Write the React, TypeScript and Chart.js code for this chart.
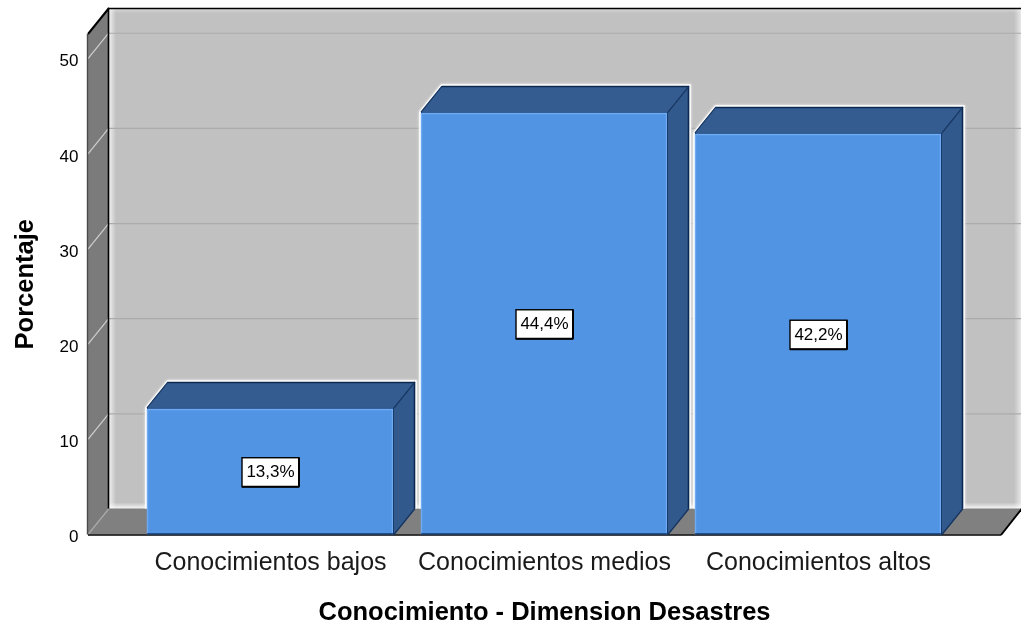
import React, { useEffect, useRef } from "react";
import { Chart, registerables } from "chart.js";

Chart.register(...registerables);

const categories = ["Conocimientos bajos", "Conocimientos medios", "Conocimientos altos"];
const percentages = [13.3, 44.4, 42.2];
const valueLabels = ["13,3%", "44,4%", "42,2%"];
const yTicks = [0, 10, 20, 30, 40, 50];
const xTitle = "Conocimiento - Dimension Desastres";
const yTitle = "Porcentaje";

const DEPTH_X = 21;
const DEPTH_Y = 26;
const SIDE_PAD = 45.5;

const poly = (ctx: CanvasRenderingContext2D, pts: number[][], fill?: string, stroke?: string, lw = 1) => {
  ctx.beginPath();
  pts.forEach((p, i) => (i ? ctx.lineTo(p[0], p[1]) : ctx.moveTo(p[0], p[1])));
  ctx.closePath();
  if (fill) {
    ctx.fillStyle = fill;
    ctx.fill();
  }
  if (stroke) {
    ctx.strokeStyle = stroke;
    ctx.lineWidth = lw;
    ctx.stroke();
  }
};

const line = (ctx: CanvasRenderingContext2D, x1: number, y1: number, x2: number, y2: number, color: string, lw = 1) => {
  ctx.beginPath();
  ctx.moveTo(x1, y1);
  ctx.lineTo(x2, y2);
  ctx.strokeStyle = color;
  ctx.lineWidth = lw;
  ctx.stroke();
};

const walls = {
  id: "walls",
  beforeDatasetsDraw(chart: any) {
    const { ctx, chartArea, scales } = chart;
    const y = scales.y;
    const L = chartArea.left - SIDE_PAD;
    const R = chartArea.right + SIDE_PAD;
    const T = chartArea.top;
    const B = chartArea.bottom;
    const bL = L + DEPTH_X;
    const bR = R + DEPTH_X;
    const bT = T - DEPTH_Y;
    const bB = B - DEPTH_Y;
    ctx.save();
    // back wall
    ctx.fillStyle = "#c1c1c1";
    ctx.fillRect(bL, bT, bR - bL, bB - bT);
    // soft inner glow of the wall
    let g = ctx.createLinearGradient(bL, 0, bL + 7, 0);
    g.addColorStop(0, "rgba(255,255,255,0.75)");
    g.addColorStop(1, "rgba(255,255,255,0)");
    ctx.fillStyle = g;
    ctx.fillRect(bL, bT, 7, bB - bT);
    g = ctx.createLinearGradient(0, bB - 6, 0, bB);
    g.addColorStop(0, "rgba(255,255,255,0)");
    g.addColorStop(1, "rgba(255,255,255,0.85)");
    ctx.fillStyle = g;
    ctx.fillRect(bL, bB - 6, bR - bL, 6);
    g = ctx.createLinearGradient(0, bT, 0, bT + 5);
    g.addColorStop(0, "rgba(255,255,255,0.45)");
    g.addColorStop(1, "rgba(255,255,255,0)");
    ctx.fillStyle = g;
    ctx.fillRect(bL, bT, bR - bL, 5);
    g = ctx.createLinearGradient(bR - 8, 0, bR - 1, 0);
    g.addColorStop(0, "rgba(255,255,255,0)");
    g.addColorStop(1, "rgba(255,255,255,0.6)");
    ctx.fillStyle = g;
    ctx.fillRect(bR - 8, bT, 8, bB - bT);
    // left wall and floor
    poly(ctx, [[L, T], [bL, bT], [bL, bB], [L, B]], "#7b7b7b");
    poly(ctx, [[L, B], [bL, bB], [bR, bB], [R, B]], "#808080");
    // grid lines
    yTicks.forEach((v) => {
      const p = y.getPixelForValue(v);
      if (v > 0) line(ctx, bL, p - DEPTH_Y + 0.5, bR, p - DEPTH_Y + 0.5, "#ababab", 1.2);
      line(ctx, L, p, bL, p - DEPTH_Y, v > 0 ? "#cfcfcf" : "#a9a9a9", 1.2);
    });
    // outlines
    line(ctx, bL - 0.5, bT, bL - 0.5, bB, "#000", 1.6);
    line(ctx, bL - 1, bT + 0.5, bR, bT + 0.5, "#000", 1.4);
    line(ctx, L - 0.5, T, L - 0.5, B, "#4a4a4a", 1.4);
    line(ctx, L, T, bL, bT, "#000", 2);
    line(ctx, L, B + 0.5, R, B + 0.5, "#000", 1.4);
    line(ctx, R, B + 0.5, bR, bB, "#000", 2);
    // 3D bar sides with halo
    const bars = chart.getDatasetMeta(0).data;
    bars.forEach((bar: any) => {
      const l = bar.x - bar.width / 2;
      const r = bar.x + bar.width / 2;
      const t = bar.y;
      const b = bar.base;
      const shape = [[l, b], [l, t], [l + DEPTH_X, t - DEPTH_Y], [r + DEPTH_X, t - DEPTH_Y], [r + DEPTH_X, b - DEPTH_Y], [r, b]];
      ctx.save();
      ctx.beginPath();
      ctx.rect(0, 0, chart.width, bB);
      ctx.clip();
      ctx.shadowColor = "rgba(255,255,255,0.9)";
      ctx.shadowBlur = 3;
      poly(ctx, shape, undefined, "#ffffff", 3.5);
      ctx.restore();
      poly(ctx, [[l, t], [l + DEPTH_X, t - DEPTH_Y], [r + DEPTH_X, t - DEPTH_Y], [r, t]], "#345c90");
      poly(ctx, [[r, t], [r + DEPTH_X, t - DEPTH_Y], [r + DEPTH_X, b - DEPTH_Y], [r, b]], "#32598b");
      line(ctx, l + DEPTH_X, t - DEPTH_Y + 0.5, r + DEPTH_X, t - DEPTH_Y + 0.5, "#0b2850", 1.6);
      line(ctx, r + DEPTH_X - 0.5, t - DEPTH_Y, r + DEPTH_X - 0.5, b - DEPTH_Y, "#0b2850", 1.6);
      line(ctx, l, t, l + DEPTH_X, t - DEPTH_Y, "#14335f", 1.2);
      line(ctx, r, t, r + DEPTH_X, t - DEPTH_Y, "#14335f", 1.2);
      line(ctx, r, b, r + DEPTH_X, b - DEPTH_Y, "#14335f", 1.2);
    });
    ctx.restore();
  },
  afterDatasetsDraw(chart: any) {
    const { ctx } = chart;
    const bars = chart.getDatasetMeta(0).data;
    ctx.save();
    bars.forEach((bar: any, i: number) => {
      const l = bar.x - bar.width / 2;
      const r = bar.x + bar.width / 2;
      const t = bar.y;
      const b = bar.base;
      // bevel of the front face
      line(ctx, l, t + 0.5, r, t + 0.5, "#1e4477", 1);
      line(ctx, l + 1, t + 1.5, r - 1, t + 1.5, "#6fabf3", 1.4);
      line(ctx, l + 0.5, t + 1, l + 0.5, b, "#6fabf3", 1.4);
      line(ctx, r - 1.5, t + 1, r - 1.5, b, "#6fabf3", 1.4);
      line(ctx, r - 0.5, t, r - 0.5, b, "#173a6b", 1);
      line(ctx, l, b - 0.5, r, b - 0.5, "#14386a", 1.6);
      // value label
      const cx = bar.x;
      const cy = (t + b) / 2 + 1;
      const w = 57;
      const h = 29;
      ctx.fillStyle = "#ffffff";
      ctx.fillRect(cx - w / 2, cy - h / 2, w, h);
      ctx.strokeStyle = "#000";
      ctx.lineWidth = 1.4;
      ctx.strokeRect(cx - w / 2, cy - h / 2, w, h);
      line(ctx, cx - w / 2, cy + h / 2, cx + w / 2, cy + h / 2, "#000", 2);
      line(ctx, cx + w / 2, cy - h / 2, cx + w / 2, cy + h / 2, "#000", 2);
      ctx.fillStyle = "#000";
      ctx.font = '17px "Liberation Sans"';
      ctx.textAlign = "center";
      ctx.textBaseline = "middle";
      ctx.fillText(valueLabels[i], cx, cy + 0.5);
    });
    ctx.restore();
  },
};

export default function App() {
  const ref = useRef<HTMLCanvasElement>(null);
  useEffect(() => {
    document.body.style.margin = "0";
    const chart = new Chart(ref.current!, {
      type: "bar",
      data: {
        labels: categories,
        datasets: [
          {
            label: yTitle,
            data: percentages,
            backgroundColor: "#5294e4",
            borderWidth: 0,
            barPercentage: 0.9015,
            categoryPercentage: 1,
          },
        ],
      },
      plugins: [walls],
      options: {
        animation: false,
        responsive: false,
        layout: { padding: { top: 34, right: 65.5, left: 0, bottom: 0 } },
        plugins: { legend: { display: false }, tooltip: { enabled: false } },
        scales: {
          x: {
            afterFit(axis: any) {
              axis.height = 88.5;
              axis.paddingLeft = 0;
              axis.paddingRight = 0;
            },
            grid: { display: false },
            border: { display: false },
            ticks: {
              color: "#1a1a1a",
              maxRotation: 0,
              padding: 6,
              font: { family: '"Liberation Sans"', size: 25 },
            },
            title: {
              display: true,
              text: xTitle,
              color: "#000",
              padding: { top: 0, bottom: -5 },
              font: { family: '"Liberation Sans"', size: 25.5, weight: "bold" },
            },
          },
          y: {
            min: 0,
            max: 52.6,
            afterBuildTicks(axis: any) {
              axis.ticks = yTicks.map((value) => ({ value }));
            },
            afterFit(axis: any) {
              axis.width = 133.5;
              axis.paddingTop = 0;
              axis.paddingBottom = 0;
            },
            grid: { display: false, drawTicks: false },
            border: { display: false },
            ticks: {
              color: "#000",
              padding: 55,
              labelOffset: 3,
              font: { family: '"Liberation Sans"', size: 17 },
            },
            title: {
              display: true,
              text: yTitle,
              color: "#000",
              padding: { top: 11, bottom: 0 },
              font: { family: '"Liberation Sans"', size: 25.5, weight: "bold" },
            },
          },
        },
      } as any,
    });
    return () => chart.destroy();
  }, []);
  return <canvas ref={ref} width={1021} height={623} style={{ display: "block" }} />;
}
